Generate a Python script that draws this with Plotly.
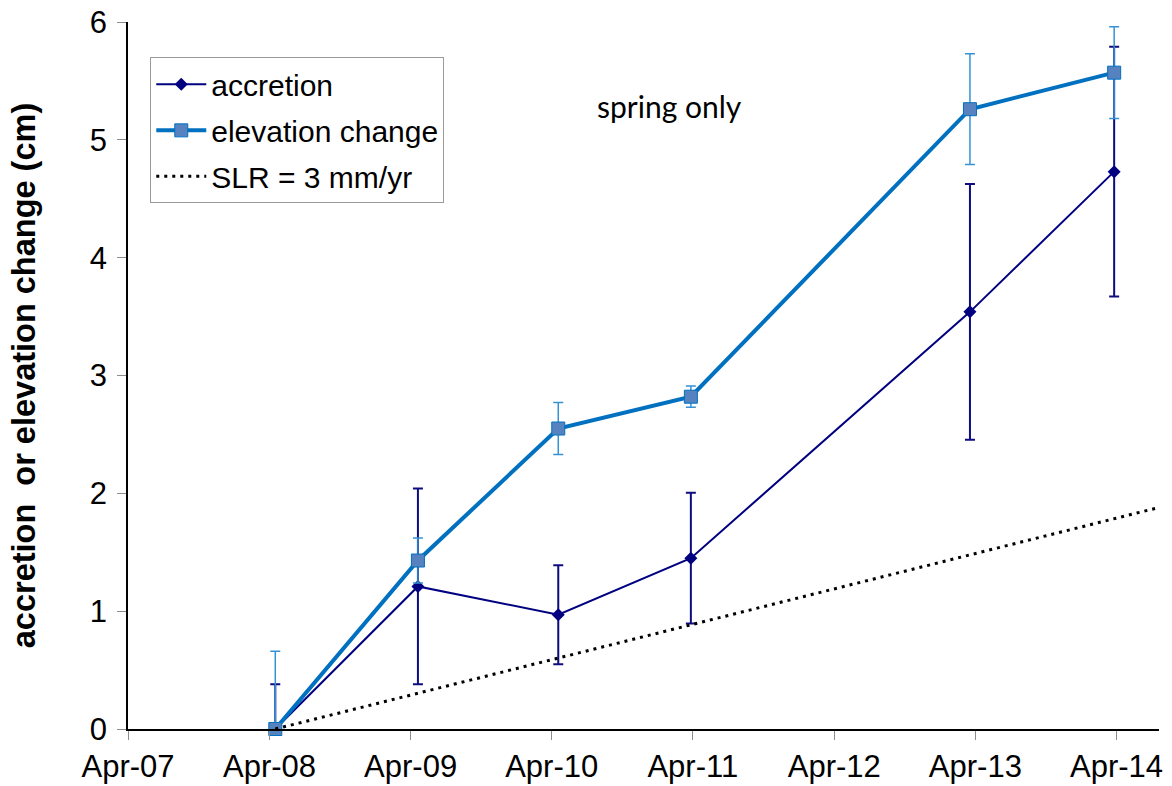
import plotly.graph_objects as go

# Survey dates (spring sampling)
survey_dates = ["2008-04-16", "2009-04-20", "2010-04-18", "2011-03-27", "2013-03-18", "2014-03-26"]

# Cumulative change since first survey (cm) and standard errors
accretion = [0.0, 1.21, 0.97, 1.45, 3.54, 4.73]
accretion_err = [0.38, 0.83, 0.42, 0.555, 1.085, 1.06]
elevation = [0.0, 1.43, 2.55, 2.82, 5.26, 5.57]
elevation_err = [0.66, 0.19, 0.22, 0.09, 0.47, 0.39]

# Sea-level rise reference line, 3 mm/yr
slr_dates = ["2008-04-16", "2014-07-20"]
slr_values = [0.0, 1.88]

x_range = ["2007-04-01", "2014-07-20"]
y_range = [0, 6]

FONT = "Liberation Sans, Arial, sans-serif"

fig = go.Figure()

fig.add_trace(go.Scatter(
    x=survey_dates, y=accretion, name="accretion", legendgroup="a",
    mode="lines+markers", cliponaxis=False,
    line=dict(color="#000080", width=2),
    marker=dict(symbol="diamond", size=10, color="#000080"),
    error_y=dict(type="data", array=accretion_err, visible=True,
                 color="#0d0d80", thickness=2, width=5),
))

fig.add_trace(go.Scatter(
    x=survey_dates, y=elevation, name="elevation change", legendgroup="b",
    mode="lines+markers", cliponaxis=False,
    line=dict(color="#0070C0", width=4),
    marker=dict(symbol="square", size=13, color="#5683C0",
                line=dict(color="#0070C0", width=1)),
    error_y=dict(type="data", array=elevation_err, visible=True,
                 color="#3592D4", thickness=1.5, width=5),
))

fig.add_trace(go.Scatter(
    x=slr_dates, y=slr_values, name="SLR = 3 mm/yr", legendgroup="c",
    mode="lines", line=dict(color="black", width=3, dash="3px,5px"),
))

fig.add_annotation(
    text="spring only", x=0.525, y=0.91, xref="paper", yref="paper",
    showarrow=False, font=dict(family="Lato, Open Sans, sans-serif", size=30, color="black"),
)

fig.update_layout(
    width=1172, height=786,
    margin=dict(l=128, r=13, t=22, b=57),
    paper_bgcolor="white", plot_bgcolor="white",
    font=dict(family=FONT, size=30, color="black"),
    showlegend=True,
    legend=dict(
        x=0.0216, y=0.95, xanchor="left", yanchor="top",
        bgcolor="white", bordercolor="#9a9a9a", borderwidth=1,
        font=dict(family=FONT, size=30, color="black"),
        itemwidth=50, tracegroupgap=4, traceorder="grouped",
    ),
    xaxis=dict(
        type="date", range=x_range, tick0="2007-04-01", dtick="M12",
        tickformat="%b-%y", showgrid=False, zeroline=False, automargin=False,
        showline=True, linecolor="black", linewidth=1.5,
        ticks="outside", ticklen=9, tickcolor="#8c8c8c", tickwidth=1,
        tickfont=dict(family=FONT, size=31, color="black"),
    ),
    yaxis=dict(
        range=y_range, dtick=1, showgrid=False, zeroline=False, automargin=False,
        showline=True, linecolor="black", linewidth=1.5,
        ticks="outside", ticklen=9, tickcolor="#8c8c8c", tickwidth=1,
        ticklabelstandoff=4,
        tickfont=dict(family=FONT, size=31, color="black"),
        title=dict(text="<b>accretion  or elevation change (cm)</b>",
                   font=dict(family=FONT, size=32.5, color="black"), standoff=44),
    ),
)

fig.write_html("out.html")
